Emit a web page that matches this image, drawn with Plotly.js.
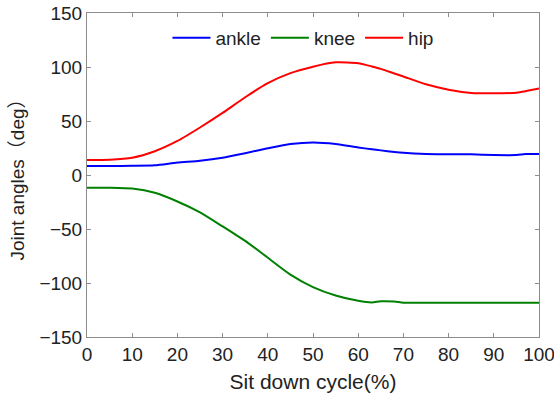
<!DOCTYPE html>
<html>
<head>
<meta charset="utf-8">
<script src="https://cdn.plot.ly/plotly-3.0.1.min.js"></script>
<style>html,body{margin:0;padding:0;background:#fff;}#chart{width:554px;height:398px;}</style>
</head>
<body>
<div id="chart"></div>
<script>
const cycle = [0, 5, 10, 15, 20, 25, 30, 35, 40, 45, 50, 55, 60, 63, 65, 68, 70, 75, 80, 85, 90, 95, 97, 100];
const ankle = [8.3, 8.3, 8.5, 9, 11.5, 13.2, 16, 20.2, 24.7, 28.7, 30.2, 28.8, 25.5, 23.8, 22.8, 21.3, 20.5, 19.5, 19.3, 19.1, 18.5, 18.5, 19.4, 19.4];
const knee = [-11.7, -11.8, -12.6, -16.5, -24.5, -34.6, -47.6, -61, -76.6, -92.2, -103.8, -111.6, -116.5, -118, -116.9, -117.2, -118.2, -118.2, -118.2, -118.2, -118.2, -118.2, -118.2, -118.2];
const hip = [14, 14.2, 16, 22, 31.5, 44, 57.5, 72, 85, 94.3, 100.3, 104.3, 103.5, 100.5, 98.3, 94, 91.2, 84, 79, 76, 75.6, 76.2, 77.5, 80];
const seriesNames = ['ankle', 'knee', 'hip'];
const seriesColors = ['#0000ff', '#008000', '#ff0000'];
const xTicks = [0, 10, 20, 30, 40, 50, 60, 70, 80, 90, 100];
const yTicks = [-150, -100, -50, 0, 50, 100, 150];

const FONT = 'Liberation Sans, Arial, sans-serif';
const seriesData = [ankle, knee, hip];
const traces = seriesData.map((ys, i) => ({
  x: cycle, y: ys, type: 'scatter', mode: 'lines', name: seriesNames[i],
  line: {color: seriesColors[i], width: 2, shape: 'spline', smoothing: 0.6}
}));

const axisCommon = {
  showgrid: false, zeroline: false, showline: true, linecolor: '#8c8c8c', linewidth: 1,
  mirror: 'ticks', ticks: 'inside', ticklen: 4, tickcolor: '#8c8c8c',
  ticklabeloverflow: 'allow',
  tickfont: {family: FONT, size: 19, color: '#222'}
};

const layout = {
  width: 554, height: 398,
  margin: {l: 87, r: 15, t: 13, b: 61},
  paper_bgcolor: '#fff', plot_bgcolor: '#fff',
  showlegend: true,
  legend: {orientation: 'h', x: 0.178, y: 0.923, xanchor: 'left', yanchor: 'middle',
    itemwidth: 38,
    bgcolor: 'rgba(0,0,0,0)', font: {family: FONT, size: 19, color: '#222'},
    traceorder: 'normal'},
  xaxis: Object.assign({}, axisCommon, {range: [0, 100], tickvals: xTicks,
    title: {text: 'Sit down cycle(%)', font: {family: FONT, size: 21, color: '#222'}, standoff: 10}}),
  yaxis: Object.assign({}, axisCommon, {range: [-150, 150], tickvals: yTicks,
    title: {text: 'Joint angles（deg）', font: {family: 'Liberation Sans, Arial, Noto Sans CJK SC, sans-serif', size: 19, color: '#222'}, standoff: 9}})
};

Plotly.newPlot('chart', traces, layout, {displayModeBar: false, staticPlot: true});
</script>
</body>
</html>
